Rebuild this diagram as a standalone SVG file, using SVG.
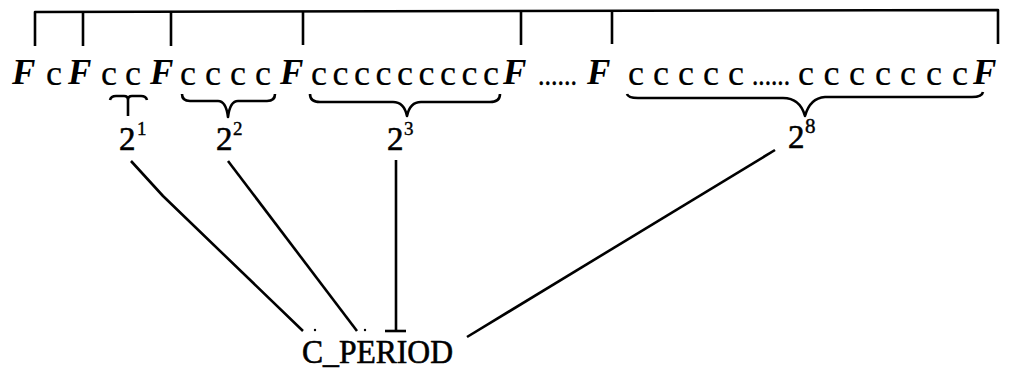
<svg xmlns="http://www.w3.org/2000/svg" width="1012" height="369" viewBox="0 0 1012 369">
<style>
.ln{fill:none;stroke:#000;stroke-width:2.6;stroke-linecap:butt;stroke-linejoin:round}
.F{font-family:"Liberation Serif","Times New Roman",serif;font-weight:bold;font-style:italic;font-size:35px;fill:#000}
.c{font-family:"Liberation Serif","Times New Roman",serif;font-size:36px;fill:#000;stroke:#000;stroke-width:0.2}
.d{font-family:"Liberation Serif","Times New Roman",serif;font-size:30px;fill:#000;stroke:#000;stroke-width:0.4}
.n{font-family:"Liberation Serif","Times New Roman",serif;font-size:33px;fill:#000;stroke:#000;stroke-width:0.6}
.s{font-family:"Liberation Serif","Times New Roman",serif;font-size:19px;fill:#000;stroke:#000;stroke-width:0.4}
</style>
<rect width="1012" height="369" fill="#fff"/>
<g id="frame">
<path class="ln" d="M35,46 L35,12 L998,10 L998,44"/>
<path class="ln" d="M83,12 L83,46 M171,12 L171,46 M303,11 L303,45 M521,11 L521,45 M612,11 L612,44"/>
</g>
<g id="sequence">
<text class="F" x="12" y="84">F</text>
<text class="F" x="68" y="84">F</text>
<text class="F" x="150" y="84">F</text>
<text class="F" x="280" y="84">F</text>
<text class="F" x="503" y="84">F</text>
<text class="F" x="587" y="84">F</text>
<text class="F" x="973" y="84">F</text>
<text class="c" x="46" y="85">c</text>
<text class="c" x="101 125" y="85">cc</text>
<text class="c" x="180 205 230 255" y="85">cccc</text>
<text class="c" x="311 332.5 354 375.5 397 418.5 440 461.5 483" y="85">ccccccccc</text>
<text class="c" x="628 653 678 703 728" y="85">ccccc</text>
<text class="c" x="798 823.6 849 875 900 926 952" y="85">ccccccc</text>
<text class="d" x="538" y="85" textLength="39" lengthAdjust="spacingAndGlyphs">......</text>
<text class="d" x="752" y="85" textLength="38" lengthAdjust="spacingAndGlyphs">......</text>
</g>
<g id="braces">
<path class="ln" d="M110,100 Q111,96 116,96 L124,96 Q128,96 128,100 L128,116 M128,100 Q128,96 132,96 L141,96 Q146,96 147,100"/>
<path class="ln" d="M182,94 Q182,101 190,101 L218,101 Q226,101 228,117 Q230,101 238,101 L267,101 Q275,101 275,94"/>
<path class="ln" d="M310,94 Q310,102 320,102 L393,102 Q404,102 407,116 Q410,102 421,102 L490,102 Q500,102 500,94"/>
<path class="ln" d="M627,94 Q628,98 638,98 L783,98 Q800,98 805,116 Q810,98 825,97 L972,97 Q982,97 983,92"/>
</g>
<g id="label-2-1"><text class="n" x="119" y="150">2</text><text class="s" x="137" y="135">1</text></g>
<g id="label-2-2"><text class="n" x="216" y="150">2</text><text class="s" x="233" y="135">2</text></g>
<g id="label-2-3"><text class="n" x="387" y="150">2</text><text class="s" x="404" y="135">3</text></g>
<g id="label-2-8"><text class="n" x="788" y="148">2</text><text class="s" x="805" y="133" style="font-size:21px">8</text></g>
<g id="c-period"><text class="n" x="302" y="363" textLength="151" lengthAdjust="spacingAndGlyphs">C_PERIOD</text></g>
<g id="connectors">
<polyline class="ln" points="131,161 163,196 303,331"/>
<line class="ln" x1="228" y1="161" x2="357" y2="331"/>
<line class="ln" x1="396" y1="160" x2="396" y2="331"/>
<line class="ln" x1="385" y1="331" x2="406" y2="331"/>
<line class="ln" x1="775" y1="150" x2="467" y2="337"/>
<circle cx="315" cy="330" r="1.2" fill="#000"/>
<circle cx="365" cy="330" r="1.2" fill="#000"/>
</g>
</svg>
